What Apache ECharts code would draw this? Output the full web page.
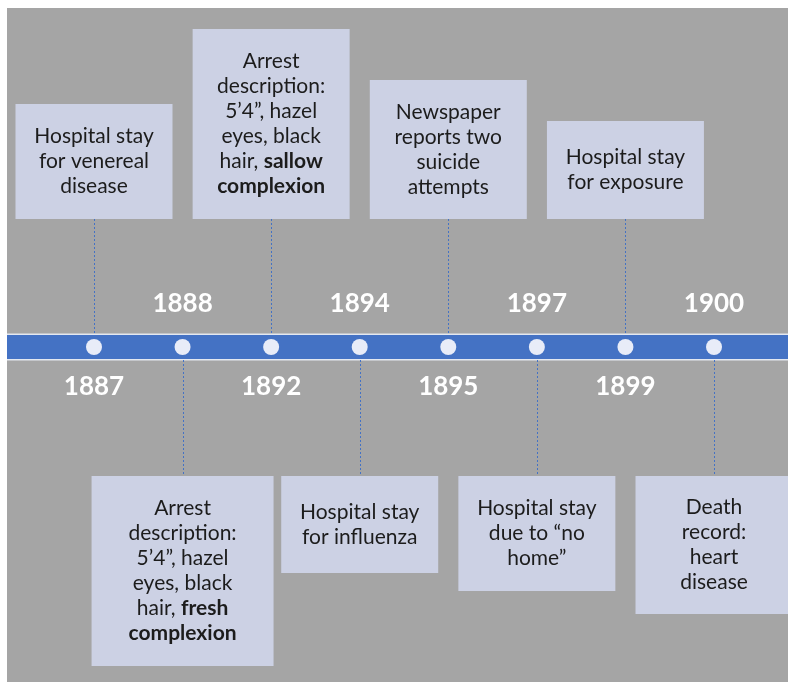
<!DOCTYPE html>
<html>
<head>
<meta charset="utf-8">
<script src="https://cdn.jsdelivr.net/npm/echarts@6/dist/echarts.min.js"></script>
<style>
  html, body { margin: 0; padding: 0; background: #ffffff; }
  #chart { width: 788px; height: 682px; }
</style>
</head>
<body>
<div id="chart"></div>
<script>
// ---- Data ----
const years = ['1887', '1888', '1892', '1894', '1895', '1897', '1899', '1900'];
const placement = ['up', 'down', 'up', 'down', 'up', 'down', 'up', 'down'];
const events = [
  'Hospital stay\nfor venereal\ndisease',
  'Arrest\ndescription:\n5\u20194\u201d, hazel\neyes, black\nhair, {b|fresh}\n{b|complexion}',
  'Arrest\ndescription:\n5\u20194\u201d, hazel\neyes, black\nhair, {b|sallow}\n{b|complexion}',
  'Hospital stay\nfor influenza',
  'Newspaper\nreports two\nsuicide\nattempts',
  'Hospital stay\ndue to \u201cno\nhome\u201d',
  'Hospital stay\nfor exposure',
  'Death\nrecord:\nheart\ndisease'
];

// ---- Layout / style constants ----
const boxWidths  = [157, 182, 157, 157, 157, 157, 157, 157];
const boxHeights = [115, 190, 190, 97, 139, 115, 98, 138];
const FONT = 'Lato, "Noto Sans", sans-serif';
const BOX_FILL = '#ccd1e4';
const BLUE = '#4472c4';
const GAP_UP = 128;    // bar center to bottom of upper boxes
const GAP_DOWN = 129;  // bar center to top of lower boxes

const chart = echarts.init(document.getElementById('chart'), null, { renderer: 'canvas' });

const eventData = years.map((y, i) => [i, 0]);

const option = {
  backgroundColor: '#ffffff',
  animation: false,
  graphic: [{
    type: 'rect', z: -10, silent: true,
    shape: { x: 7, y: 8, width: 781, height: 674 },
    style: { fill: '#a5a5a5' }
  }],
  grid: { left: 49.7, right: 29.7, top: 12, bottom: 0 },
  xAxis: { type: 'value', min: -0.5, max: 7.5, show: false },
  yAxis: { type: 'value', min: -1, max: 1, show: false },
  series: [
    {
      type: 'custom',
      z: 1,
      silent: true,
      clip: false,
      data: [[0, 0]],
      renderItem: function (params, api) {
        const c = api.coord([0, 0]);
        return {
          type: 'group',
          children: [
            { type: 'rect', shape: { x: 7, y: c[1] - 13.5, width: 781, height: 27 },
              style: { fill: '#e4e8f0' } },
            { type: 'rect', shape: { x: 7, y: c[1] - 12, width: 781, height: 24 },
              style: { fill: BLUE } }
          ]
        };
      }
    },
    {
      type: 'custom',
      z: 3,
      silent: true,
      clip: false,
      data: eventData,
      renderItem: function (params, api) {
        const i = params.dataIndex;
        const c = api.coord([api.value(0), api.value(1)]);
        const x = c[0], y = c[1];
        const lx = Math.round(x) + 0.5;
        const w = boxWidths[i], h = boxHeights[i];
        const up = placement[i] === 'up';
        const boxTop = up ? y - GAP_UP - h : y + GAP_DOWN;
        const lineFrom = up ? y - GAP_UP : y + 13;
        const lineTo = up ? y - 13 : y + GAP_DOWN;
        const yearY = up ? y + 40 : y - 43;
        return {
          type: 'group',
          children: [
            { type: 'line',
              shape: { x1: lx, y1: lineFrom, x2: lx, y2: lineTo },
              style: { stroke: BLUE, lineWidth: 1, lineDash: [2, 2] } },
            { type: 'rect',
              shape: { x: x - w / 2, y: boxTop, width: w, height: h },
              style: { fill: BOX_FILL } },
            { type: 'text',
              x: x, y: boxTop + h / 2,
              style: {
                text: events[i],
                fontFamily: FONT, fontSize: 21, lineHeight: 25,
                fill: '#1c1c1c', align: 'center', verticalAlign: 'middle',
                rich: {
                  b: { fontFamily: FONT, fontSize: 21, lineHeight: 25,
                       fontWeight: 'bold', fill: '#1c1c1c' }
                }
              } },
            { type: 'text',
              x: x, y: yearY,
              style: {
                text: years[i],
                fontFamily: FONT, fontSize: 26, fontWeight: 'bold',
                fill: '#ffffff', align: 'center', verticalAlign: 'middle'
              } },
            { type: 'circle',
              shape: { cx: x, cy: y, r: 8 },
              style: { fill: '#e8ecf8' } }
          ]
        };
      }
    }
  ]
};

chart.setOption(option);
</script>
</body>
</html>
